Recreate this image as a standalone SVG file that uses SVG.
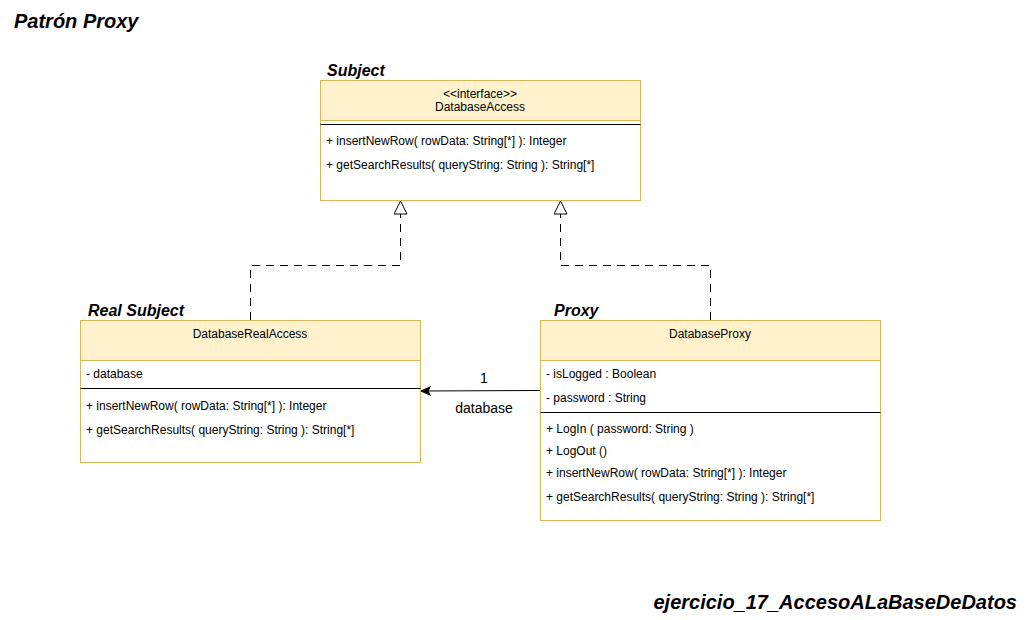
<svg xmlns="http://www.w3.org/2000/svg" width="1030" height="620" viewBox="0 0 1030 620">
<style>
text{font-family:"Liberation Sans",Arial,sans-serif;fill:#000}
.t{font-size:12px}
.c{text-anchor:middle}
.h{font-size:16px;font-weight:bold;font-style:italic}
.big{font-size:20px;font-weight:bold;font-style:italic}
.lbl{font-size:14px;text-anchor:middle}
.box{fill:#fff;stroke:#d6b656;stroke-width:1}
.hdr{fill:#fff2cc;stroke:#d6b656;stroke-width:1}
.sep{stroke:#000;stroke-width:1}
.dash{fill:none;stroke:#000;stroke-width:1;stroke-dasharray:8 6}
</style>
<defs>
<marker id="tri" markerWidth="16" markerHeight="16" refX="14" refY="7" orient="auto" markerUnits="userSpaceOnUse">
<path d="M1,0.5 L14,7 L1,13.5 Z" fill="#fff" stroke="#000" stroke-width="1"/>
</marker>
<marker id="open" markerWidth="12" markerHeight="12" refX="10" refY="5" orient="auto" markerUnits="userSpaceOnUse">
<path d="M1,1 L10,5 L1,9 L3,5 Z" fill="#000" stroke="#000" stroke-width="1"/>
</marker>
</defs>
<rect width="1030" height="620" fill="#fff"/>
<text class="big" x="14" y="28">Patrón Proxy</text>
<text class="big" x="1017" y="609" text-anchor="end">ejercicio_17_AccesoALaBaseDeDatos</text>

<g id="connectors">
<path class="dash" d="M250.5,320 V265.5 H400.5 V201" marker-end="url(#tri)"/>
<path class="dash" d="M710.5,320 V265.5 H560.5 V201" marker-end="url(#tri)"/>
<line x1="540" y1="390.5" x2="421" y2="391" stroke="#000" stroke-width="1" marker-end="url(#open)"/>
<text class="lbl" x="484" y="383">1</text>
<text class="lbl" x="484" y="413">database</text>
</g>

<g id="subject">
<text class="h" x="327" y="76">Subject</text>
<rect class="box" x="320.5" y="80.5" width="320" height="120"/>
<rect class="hdr" x="320.5" y="80.5" width="320" height="40"/>
<line class="sep" x1="320.5" y1="124.5" x2="640.5" y2="124.5"/>
<text class="t c" x="480" y="98">&lt;&lt;interface&gt;&gt;</text>
<text class="t c" x="480" y="111">DatabaseAccess</text>
<text class="t" x="326" y="145">+ insertNewRow( rowData: String[*] ): Integer</text>
<text class="t" x="326" y="169">+ getSearchResults( queryString: String ): String[*]</text>
</g>

<g id="realsubject">
<text class="h" x="88" y="316">Real Subject</text>
<rect class="box" x="80.5" y="320.5" width="340" height="142"/>
<rect class="hdr" x="80.5" y="320.5" width="340" height="40"/>
<text class="t c" x="250" y="338">DatabaseRealAccess</text>
<text class="t" x="86" y="378">- database</text>
<line class="sep" x1="80.5" y1="388.5" x2="420.5" y2="388.5"/>
<text class="t" x="86" y="410">+ insertNewRow( rowData: String[*] ): Integer</text>
<text class="t" x="86" y="434">+ getSearchResults( queryString: String ): String[*]</text>
</g>

<g id="proxy">
<text class="h" x="554" y="316">Proxy</text>
<rect class="box" x="540.5" y="320.5" width="340" height="200"/>
<rect class="hdr" x="540.5" y="320.5" width="340" height="40"/>
<text class="t c" x="710" y="338">DatabaseProxy</text>
<text class="t" x="546" y="378">- isLogged : Boolean</text>
<text class="t" x="546" y="402">- password : String</text>
<line class="sep" x1="540.5" y1="412.5" x2="880.5" y2="412.5"/>
<text class="t" x="546" y="433">+ LogIn ( password: String )</text>
<text class="t" x="546" y="455">+ LogOut ()</text>
<text class="t" x="546" y="477">+ insertNewRow( rowData: String[*] ): Integer</text>
<text class="t" x="546" y="501">+ getSearchResults( queryString: String ): String[*]</text>
</g>
</svg>
